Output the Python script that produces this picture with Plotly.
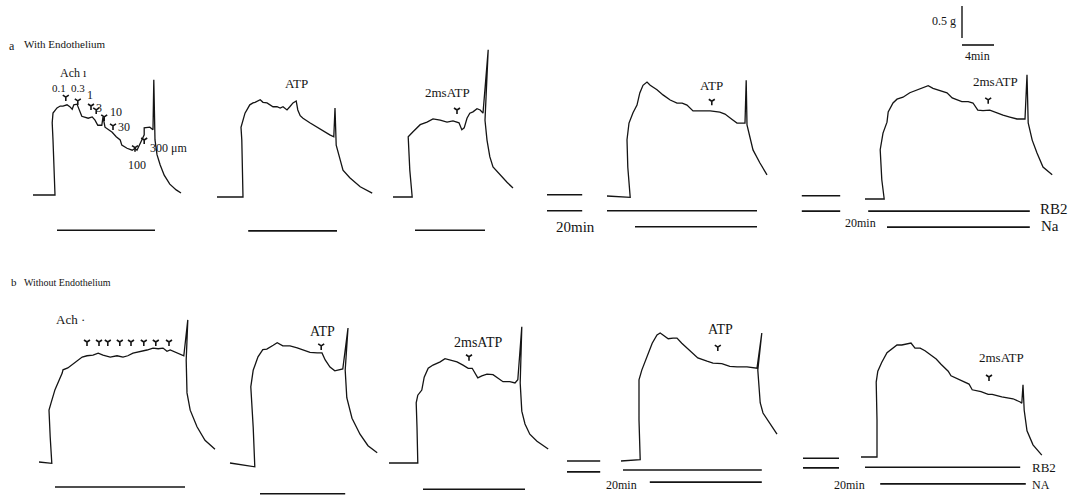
import plotly.graph_objects as go

W, H = 1078, 503
PX_PER_MIN = 8.0   # chart speed (4 min scale bar)
PX_PER_G = 64.0    # pen gain (0.5 g scale bar)
INK = "#141414"
SERIF = "Liberation Serif, Times New Roman, serif"

# ---------------- data: tension traces (min from panel start, g above baseline) -------------
# a: with endothelium
A1_T = [0, 2.75, 2.5, 2.4, 2.5, 3.0, 3.4, 3.75, 4.25, 4.6, 4.9, 5.1, 5.5, 5.75, 6.1, 6.9, 7.4, 7.75, 8.1, 8.6,
        8.75, 9.0, 9.4, 9.9, 10.4, 10.9, 11.1, 11.75, 12.4, 12.75, 13.0, 13.25, 13.6, 13.9, 13.9, 14.6, 15.0, 15.1,
        15.25, 15.5, 15.9, 16.4, 17.1, 17.9, 18.5]
A1_G = [0, 0, 0.86, 1.13, 1.28, 1.36, 1.39, 1.39, 1.41, 1.38, 1.34, 1.41, 1.42, 1.33, 1.23, 1.20, 1.22, 1.17, 1.09, 1.09,
        1.22, 1.06, 1.02, 0.98, 0.91, 0.86, 0.78, 0.73, 0.70, 0.73, 0.70, 0.78, 0.86, 0.94, 1.05, 1.06, 1.02, 1.80,
        0.86, 0.63, 0.47, 0.31, 0.17, 0.08, 0.03]

A2_T = [0, 3.25, 3.1, 3.0, 3.5, 4.1, 4.5, 4.75, 5.4, 5.75, 6.25, 6.6, 7.0, 7.5, 7.9, 8.25, 8.75, 9.1, 9.5, 9.9,
        10.1, 10.4, 10.75, 11.6, 12.5, 13.25, 14.1, 14.6, 14.75, 14.9, 15.1, 15.4, 15.75, 16.6, 17.9, 19.4]
A2_G = [0, 0, 0.89, 1.09, 1.31, 1.44, 1.47, 1.48, 1.52, 1.48, 1.47, 1.44, 1.41, 1.41, 1.39, 1.41, 1.36, 1.41, 1.47, 1.50,
        1.36, 1.27, 1.23, 1.16, 1.09, 1.03, 0.97, 0.94, 1.39, 0.81, 0.73, 0.58, 0.42, 0.30, 0.16, 0.06]

A3_T = [0, 2.4, 2.1, 1.9, 2.5, 3.0, 3.4, 4.25, 5.0, 5.9, 6.75, 7.5, 8.25, 8.6, 8.9, 9.25, 9.6, 10.0, 10.5, 10.9,
        11.25, 11.9, 11.5, 11.75, 12.1, 12.5, 13.4, 14.25, 15.0]
A3_G = [0, 0, 0.42, 0.94, 1.02, 1.09, 1.13, 1.17, 1.22, 1.20, 1.17, 1.19, 1.16, 1.05, 1.08, 1.23, 1.31, 1.33, 1.38, 1.36,
        1.31, 2.30, 1.20, 0.89, 0.63, 0.47, 0.34, 0.23, 0.14]

A4_T = [0, 2.9, 2.6, 2.5, 2.75, 3.25, 3.75, 4.1, 4.5, 5.0, 5.4, 6.25, 7.0, 7.9, 8.75, 9.4, 10.0, 10.4, 10.75, 11.6,
        12.9, 14.1, 14.75, 15.6, 16.25, 17.25, 17.4, 17.5, 17.9, 18.25, 19.1, 20.0]
A4_G = [0, -0.02, 0.45, 0.88, 1.14, 1.30, 1.42, 1.61, 1.73, 1.78, 1.73, 1.66, 1.58, 1.50, 1.45, 1.45, 1.42, 1.38, 1.33, 1.33,
        1.33, 1.31, 1.28, 1.20, 1.14, 1.14, 1.81, 1.11, 0.88, 0.72, 0.52, 0.33]

A5_T = [0, 2.4, 2.1, 1.9, 2.25, 2.75, 2.9, 3.5, 4.0, 4.75, 5.6, 6.5, 7.25, 7.9, 8.5, 9.4, 10.25, 10.9, 11.5, 12.1,
        12.9, 13.5, 14.1, 14.75, 15.6, 16.5, 17.25, 18.1, 19.0, 20.0, 20.25, 20.4, 20.9, 21.5, 22.25, 23.4]
A5_G = [0, 0, 0.30, 0.77, 1.03, 1.20, 1.36, 1.50, 1.56, 1.59, 1.66, 1.70, 1.73, 1.77, 1.73, 1.70, 1.66, 1.58, 1.55, 1.52,
        1.52, 1.50, 1.39, 1.38, 1.39, 1.34, 1.31, 1.28, 1.25, 1.25, 1.94, 1.19, 0.92, 0.72, 0.50, 0.38]

# b: without endothelium
B1_T = [0, 1.6, 1.4, 1.25, 1.5, 2.0, 2.9, 3.0, 3.6, 4.1, 4.75, 5.4, 6.0, 6.75, 7.4, 8.0, 8.9, 9.75, 10.5, 11.1,
        11.75, 12.6, 13.5, 14.25, 14.9, 15.5, 16.0, 16.4, 17.25, 18.1, 18.6, 18.4, 18.5, 18.9, 19.75, 20.75, 22.0]
B1_G = [0, -0.02, 0.39, 0.81, 0.92, 1.13, 1.39, 1.44, 1.47, 1.52, 1.59, 1.64, 1.66, 1.67, 1.70, 1.67, 1.64, 1.66, 1.64, 1.66,
        1.70, 1.72, 1.75, 1.78, 1.77, 1.78, 1.73, 1.75, 1.70, 1.66, 2.22, 1.59, 1.08, 0.81, 0.55, 0.34, 0.20]

B2_T = [0, 1.25, 3.1, 2.9, 2.6, 2.9, 3.5, 4.1, 4.6, 5.4, 5.9, 6.6, 7.5, 8.4, 9.1, 10.0, 10.9, 11.5, 11.9, 12.5,
        13.1, 14.1, 14.75, 14.4, 14.6, 15.25, 16.25, 17.25, 18.4]
B2_G = [0, -0.02, -0.06, 0.56, 1.19, 1.45, 1.66, 1.77, 1.78, 1.84, 1.88, 1.83, 1.83, 1.80, 1.77, 1.73, 1.72, 1.72, 1.61, 1.50,
        1.44, 1.47, 2.11, 1.45, 1.02, 0.70, 0.45, 0.27, 0.16]

B3_T = [0, 3.6, 3.5, 3.4, 3.6, 4.1, 4.4, 4.9, 5.5, 6.4, 7.0, 7.6, 8.5, 9.25, 9.9, 10.4, 10.75, 11.1, 11.6, 12.25,
        13.0, 13.6, 14.25, 15.1, 15.75, 16.1, 16.6, 16.4, 16.6, 17.0, 17.6, 18.5, 19.9]
B3_G = [0, 0, 0.56, 0.94, 1.06, 1.14, 1.34, 1.48, 1.53, 1.58, 1.63, 1.61, 1.58, 1.53, 1.48, 1.48, 1.41, 1.33, 1.36, 1.39,
        1.38, 1.33, 1.27, 1.27, 1.25, 1.30, 2.13, 1.25, 0.81, 0.61, 0.45, 0.34, 0.22]

B4_T = [0, 2.4, 2.25, 2.25, 2.6, 3.25, 3.9, 4.5, 4.9, 5.25, 5.9, 6.5, 7.0, 7.6, 8.25, 8.9, 9.6, 10.75, 11.5, 12.6,
        13.6, 14.5, 15.75, 17.0, 17.6, 17.1, 17.4, 17.75, 18.6, 19.5]
B4_G = [0, 0.02, 0.64, 1.27, 1.42, 1.63, 1.84, 1.97, 2.0, 1.97, 1.91, 1.92, 1.92, 1.84, 1.77, 1.69, 1.61, 1.56, 1.53, 1.52,
        1.48, 1.47, 1.47, 1.45, 2.0, 1.42, 0.91, 0.75, 0.59, 0.42]

B5_T = [0, 2.0, 2.0, 1.9, 2.1, 2.6, 3.25, 3.9, 4.5, 5.1, 5.75, 6.25, 6.75, 7.4, 8.0, 8.5, 9.4, 10.0, 10.9, 11.25,
        12.4, 13.5, 13.9, 15.0, 15.9, 16.4, 17.6, 19.0, 19.9, 20.1, 20.25, 20.4, 20.75, 21.5, 22.6]
B5_G = [0, 0, 0.58, 1.17, 1.34, 1.48, 1.63, 1.70, 1.75, 1.75, 1.77, 1.78, 1.70, 1.70, 1.66, 1.61, 1.53, 1.45, 1.34, 1.27,
        1.20, 1.14, 1.05, 1.02, 0.98, 0.98, 0.94, 0.91, 0.86, 0.84, 1.13, 0.73, 0.41, 0.19, 0.03]

# drug additions (arrowheads): time (min), tension level (g)
A1_DOSES = ["0.1", "0.3", "1", "3", "10", "30", "100", "300 μm"]
A1_DOSE_T = [4.1, 5.6, 7.25, 7.9, 8.9, 10.0, 12.75, 13.9]
A1_DOSE_G = [1.53, 1.47, 1.39, 1.33, 1.22, 1.08, 0.74, 0.86]
B1_DOSE_T = [6.0, 7.5, 8.6, 10.1, 11.5, 13.1, 14.6, 16.25]
B1_DOSE_G = [1.875, 1.875, 1.875, 1.875, 1.875, 1.875, 1.875, 1.875]
ADD_PANEL = ["a3", "a4", "a5", "b2", "b3", "b4", "b5"]
ADD_T = [8.0, 13.1, 15.4, 11.4, 10.0, 12.1, 16.0]
ADD_G = [1.36, 1.48, 1.55, 1.83, 1.66, 1.78, 1.25]

# solution bars: (start min, end min)
KCL_BARS = {"a1": (3.0, 15.25), "a2": (3.9, 15.0), "a3": (2.75, 11.5),
            "b1": (2.0, 18.25), "b2": (3.75, 14.4), "b3": (4.25, 17.0)}
RB2_BARS = {"a4": (0.0, 18.75), "a5": (0.4, 20.6), "b4": (0.25, 17.6), "b5": (0.5, 19.9)}
NA_BARS = {"a4": (3.5, 18.75), "a5": (2.75, 20.6), "b4": (3.6, 17.6), "b5": (2.4, 20.6)}
PRE_BARS = {"a4": (-7.5, -3.1), "a5": (-7.9, -3.1), "b4": (-6.75, -2.6), "b5": (-7.25, -2.75)}

# ---------------- layout (positions only) ----------------
ORIGIN_PX = {"a1": (33, 195), "a2": (217, 197), "a3": (393, 197), "a4": (607, 196), "a5": (865, 199),
             "b1": (39, 462), "b2": (230, 463), "b3": (389, 463), "b4": (621, 461), "b5": (861, 457)}
TRACES = {"a1": (A1_T, A1_G), "a2": (A2_T, A2_G), "a3": (A3_T, A3_G), "a4": (A4_T, A4_G), "a5": (A5_T, A5_G),
          "b1": (B1_T, B1_G), "b2": (B2_T, B2_G), "b3": (B3_T, B3_G), "b4": (B4_T, B4_G), "b5": (B5_T, B5_G)}
KCL_LEVEL = {"a1": -0.55, "a2": -0.53, "a3": -0.52, "b1": -0.39, "b2": -0.48, "b3": -0.41}
RB2_LEVEL = {"a4": -0.23, "a5": -0.19, "b4": -0.14, "b5": -0.16}
NA_LEVEL = {"a4": -0.48, "a5": -0.44, "b4": -0.33, "b5": -0.42}
PRE_LEVELS = {"a4": (0.02, -0.23), "a5": (0.05, -0.19), "b4": (0.0, -0.17), "b5": (-0.02, -0.17)}


def X(p, t):
    return ORIGIN_PX[p][0] / PX_PER_MIN + t


def Y(p, g):
    return (H - ORIGIN_PX[p][1]) / PX_PER_G + g


def PX(px, py):
    return px / PX_PER_MIN, (H - py) / PX_PER_G


fig = go.Figure()


def line(xs, ys, width=1.3):
    fig.add_trace(go.Scatter(x=xs, y=ys, mode="lines", line=dict(color=INK, width=width),
                             hoverinfo="skip", showlegend=False))


for p, (ts, gs) in TRACES.items():
    assert len(ts) == len(gs)
    line([X(p, t) for t in ts], [Y(p, g) for g in gs], 1.3)

for p, (t0, t1) in KCL_BARS.items():
    line([X(p, t0), X(p, t1)], [Y(p, KCL_LEVEL[p])] * 2, 1.6)
for p, (t0, t1) in RB2_BARS.items():
    line([X(p, t0), X(p, t1)], [Y(p, RB2_LEVEL[p])] * 2, 1.6)
for p, (t0, t1) in NA_BARS.items():
    line([X(p, t0), X(p, t1)], [Y(p, NA_LEVEL[p])] * 2, 1.6)
for p, (t0, t1) in PRE_BARS.items():
    for lv in PRE_LEVELS[p]:
        line([X(p, t0), X(p, t1)], [Y(p, lv)] * 2, 1.6)

# arrowheads
arrow_x = [X("a1", t) for t in A1_DOSE_T] + [X("b1", t) for t in B1_DOSE_T] + \
          [X(p, t) for p, t in zip(ADD_PANEL, ADD_T)]
arrow_y = [Y("a1", g) for g in A1_DOSE_G] + [Y("b1", g) for g in B1_DOSE_G] + \
          [Y(p, g) for p, g in zip(ADD_PANEL, ADD_G)]
fig.add_trace(go.Scatter(x=arrow_x, y=arrow_y, mode="markers",
                         marker=dict(symbol="y-down", size=5, line=dict(color=INK, width=1.6)),
                         hoverinfo="skip", showlegend=False))

# scale bar (0.5 g, 4 min)
SCALE_G, SCALE_MIN = 0.5, 4
sx, sy = PX(962, 38)
line([sx, sx], [sy, sy + SCALE_G], 1.4)
hx, hy = PX(962, 45)
line([hx, hx + SCALE_MIN], [hy, hy], 1.6)

ann = []


def txt(x, y, s, size=12, anchor="center", weight="normal"):
    ann.append(dict(x=x, y=y, xref="x", yref="y", text=s, showarrow=False, xanchor=anchor, yanchor="middle",
                    font=dict(family=SERIF, size=size, color=INK, weight=weight)))


def ptxt(p, t, g, s, size=12, anchor="center", weight="normal"):
    txt(X(p, t), Y(p, g), s, size, anchor, weight)


# figure texts
txt(*PX(7, 46), "a", 12, "left")
txt(*PX(22, 44), "With Endothelium", 11, "left")
txt(*PX(9, 282), "b", 11, "left")
txt(*PX(22, 282), "Without Endothelium", 10, "left")
txt(*PX(958, 21), "0.5 g", 12, "right")
txt(*PX(977, 56), "4min", 12, "center")

# a1 Ach dose labels
A1_LABEL_POS = [(3.25, 1.67), (5.6, 1.67), (7.1, 1.56), (8.3, 1.36), (10.4, 1.30), (11.4, 1.06), (13.0, 0.47),
                (16.9, 0.73)]
ptxt("a1", 5.0, 1.91, "Ach ı", 12)
for lab, (t, g) in zip(A1_DOSES, A1_LABEL_POS):
    ptxt("a1", t, g, lab, 11 if lab in ("0.1", "0.3") else 12)

ptxt("a2", 9.9, 1.78, "ATP", 13)
ptxt("a3", 6.75, 1.63, "2msATP", 13)
ptxt("a4", 13.1, 1.73, "ATP", 13)
ptxt("a4", -4.0, -0.48, "20min", 15)
ptxt("a5", 16.25, 1.83, "2msATP", 13)
ptxt("a5", -0.6, -0.38, "20min", 12)
ptxt("a5", 21.6, -0.16, "RB2", 15, "left")
ptxt("a5", 21.7, -0.42, "Na", 15, "left")

ptxt("b1", 3.9, 2.22, "Ach ·", 13)
ptxt("b2", 11.5, 2.06, "ATP", 14)
ptxt("b3", 11.1, 1.89, "2msATP", 14)
ptxt("b4", 12.4, 2.05, "ATP", 14)
ptxt("b4", 0.1, -0.375, "20min", 12)
ptxt("b5", 17.6, 1.56, "2msATP", 13)
ptxt("b5", -1.4, -0.44, "20min", 12)
ptxt("b5", 21.1, -0.16, "RB2", 13, "left")
ptxt("b5", 21.1, -0.43, "NA", 12, "left")

fig.update_layout(
    width=W, height=H, margin=dict(l=0, r=0, t=0, b=0),
    paper_bgcolor="white", plot_bgcolor="white", annotations=ann, hovermode=False,
    xaxis=dict(range=[0, W / PX_PER_MIN], visible=False, fixedrange=True),
    yaxis=dict(range=[0, H / PX_PER_G], visible=False, fixedrange=True),
)
fig.write_html("out.html", config={"displayModeBar": False},
               post_script="document.body.style.margin='0';document.body.style.overflow='hidden';")
